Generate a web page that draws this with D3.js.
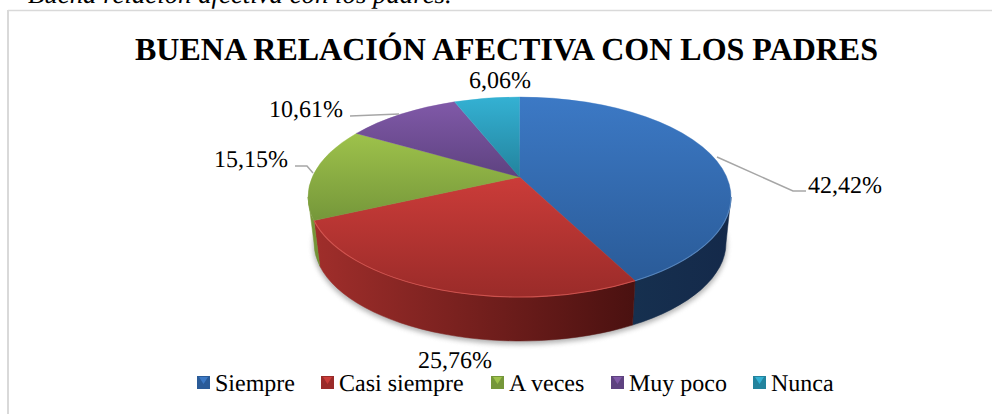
<!DOCTYPE html>
<html><head><meta charset="utf-8">
<script src="https://cdn.jsdelivr.net/npm/d3@7/dist/d3.min.js"></script>
<style>html,body{margin:0;padding:0;background:#fff;overflow:hidden}svg{display:block}text{font-family:"Liberation Serif","Times New Roman",serif;fill:#000;text-rendering:geometricPrecision}</style>
</head><body><svg id="c" width="992" height="414"></svg>
<script>
const categories = ["Siempre","Casi siempre","A veces","Muy poco","Nunca"];
const values = [42.42,25.76,15.15,10.61,6.06];
const chartTitle = "BUENA RELACIÓN AFECTIVA CON LOS PADRES";
const caption = "Buena relación afectiva con los padres.";
const topColors = ["#3c79c5","#cb3c39","#9ec24b","#8059a8","#34b1d3"];
const bottomColors = ["#2a5b98","#9a2b29","#75973a","#5e4280","#23839d"];
const wallLeft = ["#16304f","#a02e2b","#7d9c3c"];
const wallRight = ["#14294a","#4a1110","#6f8f34"];
const legendX = [197,321,491,611,753];
const labelPos = [[808,193,"start"],[455,368,"middle"],[288,167,"end"],[343,117,"end"],[500,88,"middle"]];
const leaders = [[[717,157],[793,191],[806,191]],null,[[295,166],[307,166],[313,173]],[[350,116],[399,114]],null];

const svg = d3.select("#c");
const defs = svg.append("defs");
const blur = defs.append("filter").attr("id","blur").attr("x","-20%").attr("y","-20%").attr("width","140%").attr("height","140%");
blur.append("feGaussianBlur").attr("stdDeviation",2.5);
const soft = defs.append("filter").attr("id","soft").attr("x","-5%").attr("y","-5%").attr("width","110%").attr("height","110%");
soft.append("feGaussianBlur").attr("stdDeviation",0.4);
function grad(id,a,b,x2,y2,units){
  const g=defs.append("linearGradient").attr("id",id).attr("x1",0).attr("y1",0).attr("x2",x2).attr("y2",y2);
  if(units) g.attr("gradientUnits",units);
  g.append("stop").attr("offset",0).attr("stop-color",a);
  g.append("stop").attr("offset",1).attr("stop-color",b);
}
categories.forEach((c,i)=>grad("f"+i,topColors[i],bottomColors[i],0,1));
wallLeft.forEach((c,i)=>grad("w"+i,wallLeft[i],wallRight[i],1,0));

// frame
svg.append("line").attr("x1",8).attr("x2",992).attr("y1",10.5).attr("y2",10.5).attr("stroke","#d9d9d9").attr("stroke-width",1.5);
svg.append("line").attr("x1",8).attr("x2",8).attr("y1",10).attr("y2",414).attr("stroke","#d9d9d9").attr("stroke-width",2);
svg.append("text").attr("x",28).attr("y",3).attr("font-size",26.8).attr("font-style","italic").text(caption);
svg.append("text").attr("x",506.5).attr("y",60).attr("text-anchor","middle").attr("font-size",32).attr("font-weight","bold").text(chartTitle);

// unit-disc scales of the tilted pie, top face and bottom rim
const sx = d3.scaleLinear().domain([-1,1]).range([308,731]);
const sy = d3.scaleLinear().domain([-1,1]).range([97,297]);
const bx = d3.scaleLinear().domain([-1,1]).range([314,726]);
const by = d3.scaleLinear().domain([-1,1]).range([145,341]);
const tilt = -0.2;
function proj(theta){
  const u=Math.sin(theta), v=-Math.cos(theta), w=1+tilt*v;
  return [Math.sqrt(1-tilt*tilt)*u/w,(v+tilt)/w];
}
const rx=(sx.range()[1]-sx.range()[0])/2, ry=(sy.range()[1]-sy.range()[0])/2;
const brx=(bx.range()[1]-bx.range()[0])/2, bry=(by.range()[1]-by.range()[0])/2;
const arcs = d3.pie().sort(null).startAngle(0).endAngle(2*Math.PI)(values);
const pts = arcs.map(a=>({a:proj(a.startAngle),b:proj(a.endAngle)}));

// shadow under the body
svg.append("ellipse").attr("cx",520).attr("cy",by(0)+2.5).attr("rx",brx+1).attr("ry",bry+1)
  .attr("fill","#8a8a8a").attr("opacity",.65).attr("filter","url(#blur)");

// walls (front half of the rim only)
function wall(p,q,i){
  const d=`M${sx(p[0])},${sy(p[1])}A${rx},${ry} 0 0 1 ${sx(q[0])},${sy(q[1])}L${bx(q[0])},${by(q[1])}A${brx},${bry} 0 0 0 ${bx(p[0])},${by(p[1])}Z`;
  svg.append("path").attr("d",d).attr("fill",`url(#w${i})`).attr("stroke",`url(#w${i})`).attr("stroke-width",.5);
}
wall([1,0],pts[0].b,0);
wall(pts[0].b,pts[1].b,1);
wall(pts[1].b,[-1,0],2);

// top faces
arcs.forEach((a,i)=>{
  const p=pts[i].a,q=pts[i].b,large=(a.endAngle-a.startAngle)>Math.PI?1:0;
  svg.append("path")
   .attr("d",`M${sx(0)},${sy(tilt)}L${sx(p[0])},${sy(p[1])}A${rx},${ry} 0 ${large} 1 ${sx(q[0])},${sy(q[1])}Z`)
   .attr("fill",`url(#f${i})`).attr("stroke",`url(#f${i})`).attr("stroke-width",.4);
});
// bevel highlight on the front rim
[[0,"#5f8fc8"],[1,"#dc5a55"]].forEach(([i,col])=>{
  const p=i===0?[1,0]:pts[0].b,q=pts[i].b;
  svg.append("path").attr("d",`M${sx(p[0])},${sy(p[1])}A${rx},${ry} 0 0 1 ${sx(q[0])},${sy(q[1])}`)
   .attr("fill","none").attr("stroke",col).attr("stroke-width",1.1).attr("opacity",.8).attr("filter","url(#soft)");
});

// leaders
const line=d3.line();
leaders.forEach(l=>{ if(l) svg.append("path").attr("d",line(l)).attr("fill","none").attr("stroke","#a6a6a6").attr("stroke-width",1.5); });
// labels
const fmt=d3.formatLocale({decimal:",",thousands:".",grouping:[3],currency:["",""]}).format(".2f");
values.forEach((v,i)=>{
  svg.append("text").attr("x",labelPos[i][0]).attr("y",labelPos[i][1]).attr("text-anchor",labelPos[i][2]).attr("font-size",24).text(fmt(v)+"%");
});
// legend
categories.forEach((c,i)=>{
  const g=svg.append("g").attr("transform",`translate(${legendX[i]},376)`);
  g.append("rect").attr("width",13).attr("height",13).attr("fill",bottomColors[i]);
  g.append("path").attr("d",d3.line()([[2,1],[11,1],[6.5,8]])).attr("fill",topColors[i]);
  g.append("text").attr("x",18).attr("y",15).attr("font-size",24).text(c);
});
</script></body></html>
